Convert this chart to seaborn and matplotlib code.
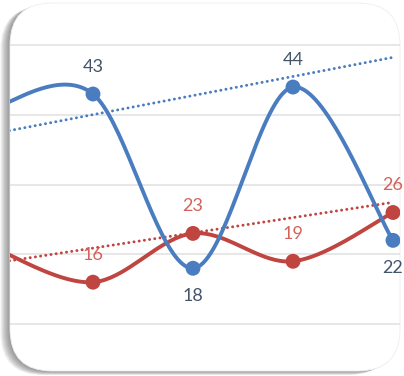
import matplotlib
matplotlib.use("Agg")
import matplotlib.pyplot as plt
import numpy as np
import pandas as pd
import seaborn as sns
from matplotlib.patches import FancyBboxPatch

# data (x=0 is a point cut off by the crop)
positions = [0, 1, 2, 3, 4]
blue_values = [41, 43, 18, 44, 22]
red_values = [21, 16, 23, 19, 26]
labelled = [1, 2, 3, 4]  # which points carry a label
blue_label_side = ["above", "below", "above", "below"]
red_label_side = ["above", "above", "above", "above"]
# linear trend lines (intercept at x=0, slope per category)
blue_trend = [37.3, 2.74]
red_trend = [18.7, 2.19]
grid_values = [10, 20, 30, 40, 50]

BLUE = "#4a7cc0"
RED = "#c0443f"
BLUE_TXT = "#44546a"
RED_TXT = "#d3625b"

sns.set_theme(style="white")
plt.rcParams["font.family"] = ["Lato", "DejaVu Sans"]


def smooth(xs, ys, n=40):
    # catmull-rom, same look as excel's smoothed line
    xs = np.asarray(xs, float)
    ys = np.asarray(ys, float)
    px = np.r_[xs[0], xs, xs[-1]]
    py = np.r_[ys[0], ys, ys[-1]]
    out_x, out_y = [], []
    for i in range(1, len(px) - 2):
        t = np.linspace(0, 1, n)
        m0x = (px[i + 1] - px[i - 1]) / 2
        m1x = (px[i + 2] - px[i]) / 2
        m0y = (py[i + 1] - py[i - 1]) / 2
        m1y = (py[i + 2] - py[i]) / 2
        h00 = 2 * t**3 - 3 * t**2 + 1
        h10 = t**3 - 2 * t**2 + t
        h01 = -2 * t**3 + 3 * t**2
        h11 = t**3 - t**2
        out_x.append(h00 * px[i] + h10 * m0x + h01 * px[i + 1] + h11 * m1x)
        out_y.append(h00 * py[i] + h10 * m0y + h01 * py[i + 1] + h11 * m1y)
    return np.concatenate(out_x), np.concatenate(out_y)


fig = plt.figure(figsize=(4.04, 3.76), dpi=100)
fig.patch.set_facecolor("white")

# card with a soft shadow, in pixel coords
bg = fig.add_axes([0, 0, 1, 1])
bg.set_xlim(0, 404)
bg.set_ylim(376, 0)
bg.axis("off")
for k in range(10, 0, -1):
    bg.add_patch(FancyBboxPatch((10 - k * 0.95, 3 + k * 0.4), 390, 368,
                                boxstyle="round,pad=0,rounding_size=42",
                                fc="#444444", ec="none", alpha=0.07, zorder=1))
card = FancyBboxPatch((10, 3), 390, 368, boxstyle="round,pad=0,rounding_size=42",
                      fc="white", ec="#eeeeee", lw=0.6, zorder=2)
bg.add_patch(card)

ax = fig.add_axes([0, 0, 1, 1])
ax.patch.set_alpha(0)
ax.set_xlim(0.07, 4.11)
ax.set_ylim(2.54, 56.49)
ax.set_yticks(grid_values)
ax.set_xticks([])
ax.grid(axis="y", color="#e0e0e0", lw=1.1)
ax.tick_params(left=False, labelleft=False, bottom=False, labelbottom=False)
for s in ax.spines.values():
    s.set_visible(False)

xt = np.array([positions[0], positions[-1]], float)
trends = pd.DataFrame({
    "x": np.r_[xt, xt],
    "y": np.r_[blue_trend[0] + blue_trend[1] * xt, red_trend[0] + red_trend[1] * xt],
    "s": ["b", "b", "r", "r"],
})
sns.lineplot(data=trends, x="x", y="y", hue="s", palette={"b": BLUE, "r": RED},
             lw=2.1, dashes=False, legend=False, ax=ax, zorder=3)
for ln in ax.lines[-2:]:
    ln.set_linestyle((0, (0.05, 1.75)))
    ln.set_dash_capstyle("round")

for vals, col in [(red_values, RED), (blue_values, BLUE)]:
    sx, sy = smooth(positions, vals)
    sns.lineplot(x=sx, y=sy, color=col, lw=2.8, sort=False, ax=ax, zorder=4)
    sns.scatterplot(x=positions, y=vals, color=col, s=115, edgecolor="none",
                    ax=ax, zorder=5)

for vals, sides, col in [(blue_values, blue_label_side, BLUE_TXT),
                         (red_values, red_label_side, RED_TXT)]:
    for p, side in zip(labelled, sides):
        dy = 19.5 if side == "above" else -20
        ax.annotate(str(vals[p]), (positions[p], vals[p]), xytext=(0, dy),
                    textcoords="offset points", ha="center", va="center",
                    fontsize=13, color=col, zorder=6)

for art in ax.lines + ax.collections:
    art.set_clip_path(card)
for gl in ax.get_ygridlines():
    gl.set_clip_path(card)

fig.savefig("out.png", dpi=100)
